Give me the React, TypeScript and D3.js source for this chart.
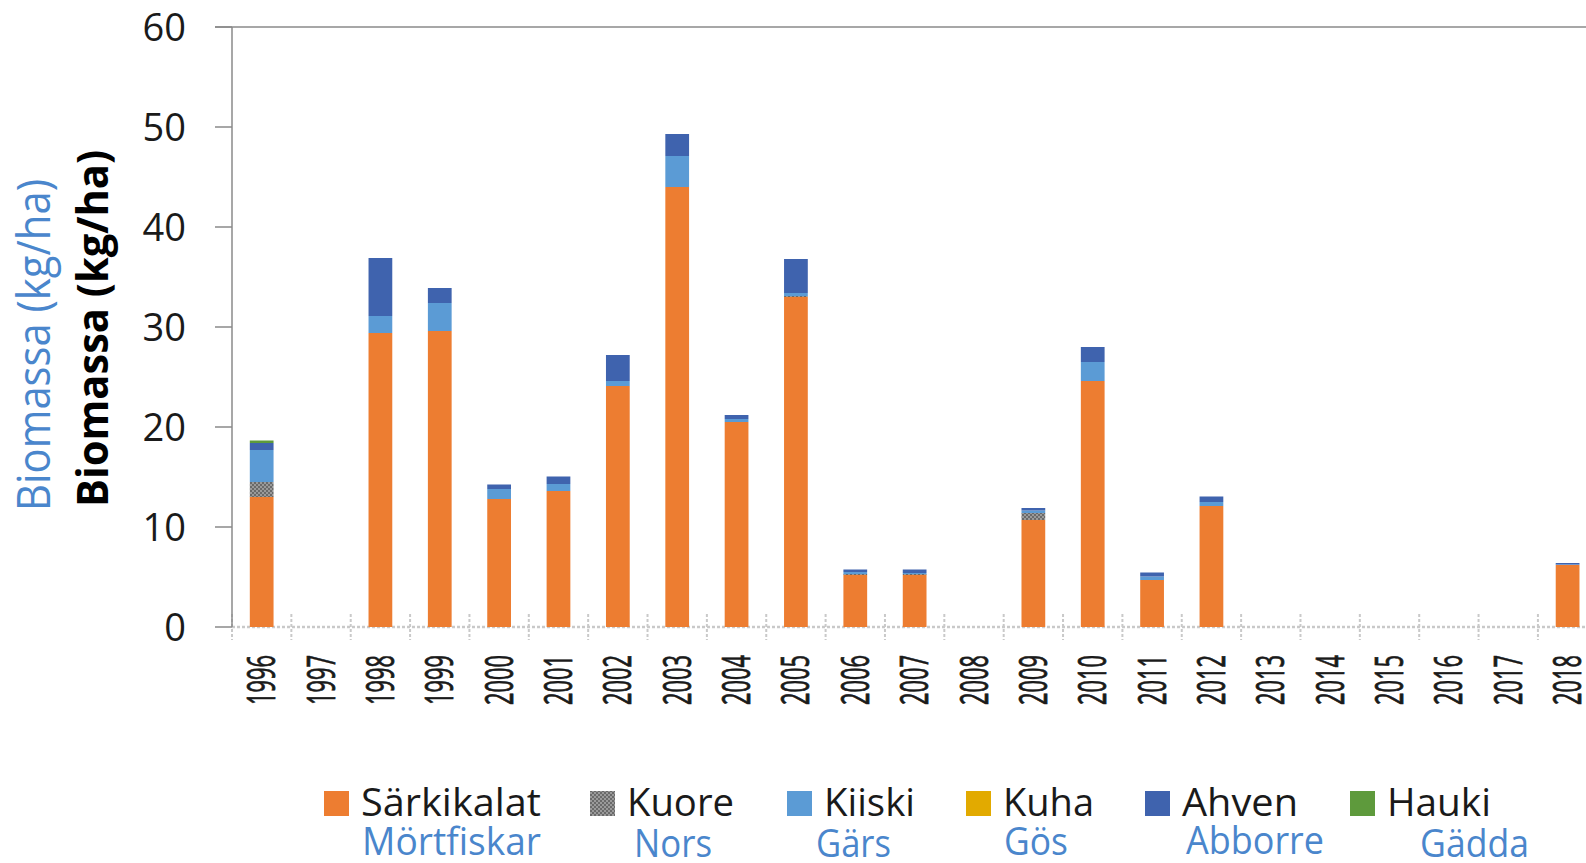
import React from "react";
import * as d3 from "d3";

const years = ["1996","1997","1998","1999","2000","2001","2002","2003","2004","2005","2006","2007","2008","2009","2010","2011","2012","2013","2014","2015","2016","2017","2018"];

const sarkikalat = [13.0,0,29.4,29.6,12.8,13.6,24.1,44.0,20.5,33.0,5.2,5.2,0,10.7,24.6,4.7,12.1,0,0,0,0,0,6.2];
const kuore =      [1.5,0,0,0,0,0,0,0,0,0.1,0.1,0.1,0,0.7,0,0,0,0,0,0,0,0,0];
const kiiski =     [3.2,0,1.7,2.8,1.0,0.7,0.5,3.1,0.3,0.3,0.2,0.1,0,0.25,1.9,0.35,0.4,0,0,0,0,0,0.05];
const kuha =       [0,0,0,0,0,0,0,0,0,0,0,0,0,0,0,0,0,0,0,0,0,0,0];
const ahven =      [0.7,0,5.8,1.5,0.45,0.75,2.6,2.2,0.4,3.4,0.25,0.35,0,0.25,1.5,0.4,0.55,0,0,0,0,0,0.15];
const hauki =      [0.25,0,0,0,0,0,0,0,0,0,0,0,0,0,0,0,0,0,0,0,0,0,0];

const seriesKeys = ["Särkikalat","Kuore","Kiiski","Kuha","Ahven","Hauki"];
const seriesSv = ["Mörtfiskar","Nors","Gärs","Gös","Abborre","Gädda"];
const seriesColors = ["#ED7D31","url(#kuorePattern)","#5B9BD5","#E2AA00","#3F63AE","#5E9A3C"];
const seriesValues = [sarkikalat, kuore, kiiski, kuha, ahven, hauki];

const yTicks = [0,10,20,30,40,50,60];

const FONT = "'Open Sans', 'Noto Sans', sans-serif";
const BLUE = "#4A86CC";

export default function App() {
  const W = 1586, H = 863;
  const left = 232, bottom = 627, top = 27;
  const step = 59.36;
  const x = d3.scaleBand<string>().domain(years).range([left, left + step * years.length]).paddingInner(0.6).paddingOuter(0.3);
  const y = d3.scaleLinear().domain([0, 60]).range([bottom, top]);

  const rows = years.map((yr, i) => {
    const r: any = { year: yr };
    seriesKeys.forEach((k, j) => { r[k] = seriesValues[j][i]; });
    return r;
  });
  const stacked = d3.stack<any>().keys(seriesKeys)(rows);

  const step2 = x.step();
  const xr = x.range();

  // legend layout (positions only)
  const legSwatchX = [324, 590, 787, 966, 1145, 1350];
  const legTextW = [180, 107, 91, 91, 116, 104];
  const legSvX = [362, 634, 816, 1004, 1186, 1420];
  const legSvW = [179, 78, 75, 64, 138, 109];
  const legSvY = [855, 857, 857, 855, 854, 857];

  return (
    <svg width={W} height={H} style={{ position: "absolute", left: 0, top: 0, background: "#fff" }}>
      <defs>
        <pattern id="kuorePattern" patternUnits="userSpaceOnUse" width="4" height="4">
          <rect width="4" height="4" fill="#9a9a9a" />
          <rect width="2" height="2" fill="#6a6a6a" />
          <rect x="2" y="2" width="2" height="2" fill="#6a6a6a" />
        </pattern>
      </defs>

      {/* top gridline */}
      <line x1={215} x2={W} y1={y(60)} y2={y(60)} stroke="#8a8a8a" strokeWidth={1.5} />

      {/* x axis dashed */}
      <line x1={left} x2={xr[1]} y1={y(0)} y2={y(0)} stroke="#c9c9c9" strokeWidth={2.5} strokeDasharray="3,2" />
      {d3.range(years.length + 1).map(i => (
        <line key={"xt" + i} x1={left + i * step2} x2={left + i * step2} y1={614} y2={640} stroke="#c9c9c9" strokeWidth={2} strokeDasharray="3,2" />
      ))}

      {/* y axis */}
      <line x1={left} x2={left} y1={y(60)} y2={y(0)} stroke="#8a8a8a" strokeWidth={1.5} />
      {yTicks.map(t => (
        <g key={"yt" + t}>
          <line x1={215} x2={left} y1={y(t)} y2={y(t)} stroke="#8a8a8a" strokeWidth={1.5} />
          <text x={186} y={y(t) + 13.5} textAnchor="end" fontFamily={FONT} fontSize={38} fill="#1a1a1a">{t}</text>
        </g>
      ))}

      {/* bars */}
      {stacked.map((s, j) => (
        <g key={s.key} fill={seriesColors[j]}>
          {s.map((d, i) => {
            const h = y(d[0]) - y(d[1]);
            if (h <= 0) return null;
            return <rect key={i} x={x(years[i])} width={x.bandwidth()} y={y(d[1])} height={h} />;
          })}
        </g>
      ))}

      {/* x labels */}
      {years.map(yr => {
        const cx = (x(yr) as number) + x.bandwidth() / 2;
        return (
          <text key={"xl" + yr} transform={`translate(${cx + 13.5},705) rotate(-90)`} textAnchor="start"
            fontFamily={FONT} fontSize={38} fill="#1a1a1a" stroke="#1a1a1a" strokeWidth={0.8}
            textLength={50} lengthAdjust="spacingAndGlyphs">{yr}</text>
        );
      })}

      {/* y titles */}
      <text transform="translate(50,511) rotate(-90)" textAnchor="start" fontFamily={FONT} fontSize={45}
        fill={BLUE} textLength={332} lengthAdjust="spacingAndGlyphs">Biomassa (kg/ha)</text>
      <text transform="translate(108,507) rotate(-90)" textAnchor="start" fontFamily={FONT} fontSize={43}
        fontWeight="bold" fill="#000" textLength={357} lengthAdjust="spacingAndGlyphs">Biomassa (kg/ha)</text>

      {/* legend */}
      {seriesKeys.map((k, j) => (
        <g key={"lg" + k}>
          <rect x={legSwatchX[j]} y={791} width={25} height={25} fill={seriesColors[j]} />
          <text x={legSwatchX[j] + 37} y={816} fontFamily={FONT} fontSize={38} fill="#1a1a1a"
            textLength={legTextW[j]} lengthAdjust="spacingAndGlyphs">{k}</text>
          <text x={legSvX[j]} y={legSvY[j]} fontFamily={FONT} fontSize={38} fill={BLUE}
            textLength={legSvW[j]} lengthAdjust="spacingAndGlyphs">{seriesSv[j]}</text>
        </g>
      ))}
    </svg>
  );
}
